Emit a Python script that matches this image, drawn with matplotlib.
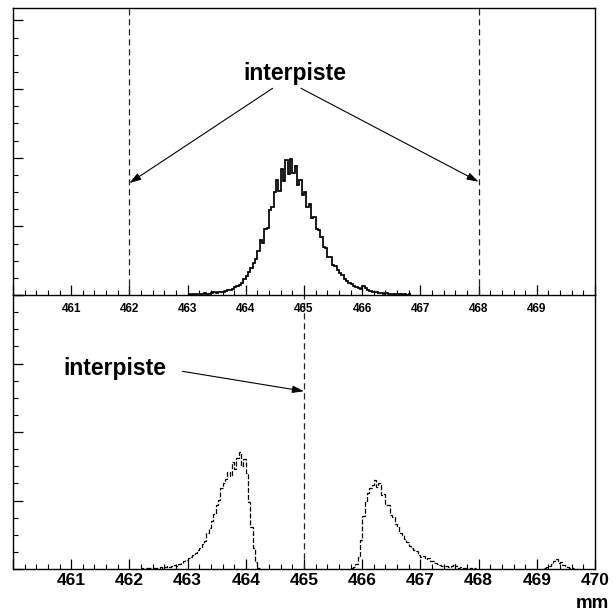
import numpy as np
import matplotlib
matplotlib.use("Agg")
import matplotlib.pyplot as plt
from matplotlib.ticker import MultipleLocator, FixedLocator, FixedFormatter

plt.rcParams['font.family'] = ['Liberation Sans', 'DejaVu Sans']
plt.rcParams['font.weight'] = 'bold'

BIN = 0.04  # mm

# Upper panel: single track profile (counts per bin), bins start at 463.00 mm
top_start = 463.00
top_counts = [1, 0, 1, 2, 1, 2, 1, 3, 2, 2,
              3, 4, 3, 4, 5, 4, 6, 7, 8, 9,
              11, 13, 15, 18, 23, 28, 33, 40, 46, 52,
              64, 80, 76, 96, 98, 124, 128, 150, 168, 152,
              184, 166, 196, 176, 198, 178, 188, 160, 168, 146,
              150, 128, 132, 112, 114, 96, 94, 84, 70, 68,
              56, 56, 44, 42, 37, 32, 29, 24, 21, 18,
              16, 13, 12, 10, 9, 13, 10, 7, 6, 5,
              4, 4, 3, 3, 2, 3, 2, 1, 2, 1,
              1, 1, 0, 1, 0, 1]

# Lower panel: profile split on both sides of the interpiste
low_left_start = 462.20
low_left_counts = [1, 0, 1, 2, 1, 2, 1, 2, 3, 2,
                   3, 4, 3, 5, 6, 5, 8, 9, 12, 13,
                   16, 17, 21, 23, 28, 31, 37, 41, 52, 60,
                   70, 80, 93, 101, 118, 126, 131, 142, 136, 156,
                   146, 162, 171, 150, 160, 140, 98, 62, 30, 10,
                   2]

low_right_start = 465.80
low_right_counts = [1, 3, 8, 18, 42, 78, 98, 111, 118, 122,
                    130, 119, 126, 108, 109, 94, 93, 79, 76, 66,
                    63, 53, 50, 44, 40, 34, 31, 28, 26, 20,
                    18, 19, 15, 16, 12, 11, 9, 8, 6, 5,
                    4, 5, 3, 4, 7, 4, 2, 3, 1, 2,
                    1, 1, 0, 1]

low_bump_start = 469.12
low_bump_counts = [1, 3, 5, 8, 11, 14, 9, 10, 6, 5, 3, 2, 1]

top_ticklabels = ['', '461', '462', '463', '464', '465', '466', '467', '468', '469', '']
low_ticklabels = ['', '461', '462', '463', '464', '465', '466', '467', '468', '469', '470']

top_marks = [462.0, 468.0]
low_marks = [465.0]


def edges(start, counts):
    return start + BIN * np.arange(len(counts) + 1)


W, H = 616, 614
fig = plt.figure(figsize=(W / 100, H / 100), dpi=100)
fig.patch.set_facecolor('white')

x0, x1 = 13, 595
y_top, y_mid, y_bot = 8, 295, 569

ax_low = fig.add_axes([x0 / W, 1 - y_bot / H, (x1 - x0) / W, (y_bot - y_mid) / H])
ax_top = fig.add_axes([x0 / W, 1 - y_mid / H, (x1 - x0) / W, (y_mid - y_top) / H])
ax_top.patch.set_alpha(0)


def style(ax, ymax, labels, labelsize, pad):
    ax.set_xlim(460, 470)
    ax.set_ylim(0, ymax)
    ax.xaxis.set_major_locator(FixedLocator(np.arange(460, 471)))
    ax.xaxis.set_major_formatter(FixedFormatter(labels))
    ax.xaxis.set_minor_locator(MultipleLocator(0.2))
    ax.yaxis.set_major_locator(MultipleLocator(100))
    ax.yaxis.set_minor_locator(MultipleLocator(25))
    ax.tick_params(axis='both', which='both', direction='in', colors='black')
    ax.tick_params(axis='both', which='major', length=7.2, width=0.9)
    ax.tick_params(axis='both', which='minor', length=3.6, width=0.8)
    ax.tick_params(axis='x', labelsize=labelsize, pad=pad)
    ax.tick_params(axis='y', labelleft=False)
    for lab in ax.get_xticklabels():
        lab.set_fontweight('bold')
    for s in ax.spines.values():
        s.set_linewidth(1.0)


style(ax_low, 400, low_ticklabels, 12.5, 3)
style(ax_top, 418, top_ticklabels, 8.5, 6)
ax_low.spines['top'].set_visible(False)

# histograms
ax_top.stairs(top_counts, edges(top_start, top_counts), color='black',
              linewidth=1.25, baseline=None)
for start, counts in [(low_left_start, low_left_counts),
                      (low_right_start, low_right_counts),
                      (low_bump_start, low_bump_counts)]:
    ax_low.stairs(counts, edges(start, counts), color='black', linewidth=0.9,
                  linestyle=(0, (4, 1.5)), baseline=None)

# interpiste markers
for xm in top_marks:
    ax_top.axvline(xm, color='#222222', linewidth=0.9, linestyle=(0, (5, 3)))
for xm in low_marks:
    ax_low.axvline(xm, color='#222222', linewidth=0.9, linestyle=(0, (5, 3)))

arrow = dict(arrowstyle='-|>,head_length=0.7,head_width=0.22', color='black',
             linewidth=0.8, shrinkA=0, shrinkB=0)

ax_top.text(464.85, 322, 'interpiste', ha='center', va='center',
            fontsize=16.5, fontweight='bold')
ax_top.annotate('', xy=(462.0, 163), xytext=(464.46, 301), arrowprops=arrow)
ax_top.annotate('', xy=(468.0, 165), xytext=(464.95, 301), arrowprops=arrow)

ax_low.text(461.75, 293, 'interpiste', ha='center', va='center',
            fontsize=16.5, fontweight='bold')
ax_low.annotate('', xy=(465.0, 259.5), xytext=(462.91, 288.6), arrowprops=arrow)

fig.text(609 / W, 1 - 603 / H, 'mm', ha='right', va='center',
         fontsize=13.5, fontweight='bold')

fig.savefig('out.png', dpi=100)
